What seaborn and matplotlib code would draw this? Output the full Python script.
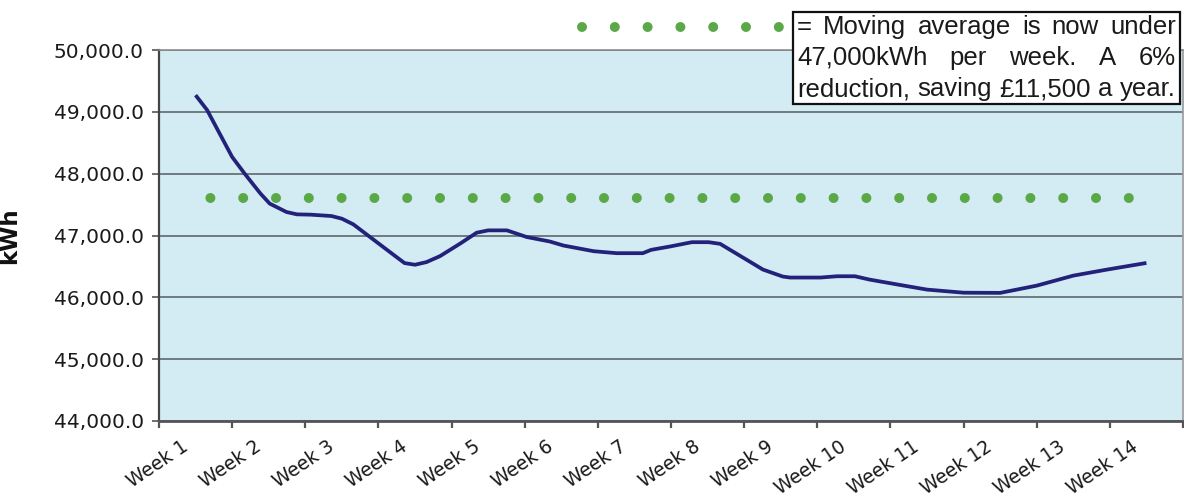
import matplotlib
matplotlib.use("Agg")
import matplotlib.pyplot as plt
import matplotlib.transforms as mtransforms
from matplotlib.lines import Line2D
from matplotlib.patches import Rectangle
from matplotlib.ticker import FuncFormatter
import seaborn as sns
import pandas as pd
import numpy as np

# ---------------- data ----------------
week_labels = [f"Week {i}" for i in range(1, 15)]
# day offset from the middle of Week 1, and moving-average kWh
ma_days = [0, 1.1, 3.5, 4.7, 6.2, 7.1, 8.7, 9.7, 11.0, 13.0,
           14.0, 15.1, 16.7, 18.6, 20.0, 21.0, 22.1, 23.4, 25.3, 26.9,
           28.0, 29.8, 31.7, 33.9, 35.2, 38.1, 40.3, 42.8, 43.6, 45.4,
           47.5, 49.1, 50.2, 51.8, 54.3, 56.2, 56.9, 59.8, 61.4, 63.1,
           64.5, 67.4, 70.0, 73.5, 77.0, 80.5, 84.0, 87.2, 91.0]
ma_kwh = [49270, 49030, 48270, 48000, 47680, 47515, 47380, 47342, 47337, 47315,
          47272, 47180, 46975, 46732, 46554, 46527, 46570, 46667, 46867, 47045,
          47083, 47083, 46975, 46903, 46838, 46746, 46714, 46714, 46768, 46822,
          46892, 46892, 46865, 46703, 46449, 46336, 46320, 46320, 46341, 46341,
          46287, 46201, 46125, 46075, 46072, 46189, 46351, 46448, 46556]
target_weeks = [1, 14]
target_kwh = [47600, 47600]
y_ticks = [44000, 45000, 46000, 47000, 48000, 49000, 50000]
note_lines = ["= Moving average is now under",
              "47,000kWh per week. A 6%",
              "reduction, saving \u00a311,500 a year."]

# ---------------- style ----------------
W, H = 1184, 504
sns.set_theme(style="white")
plt.rcParams["font.family"] = ["DejaVu Sans"]

BG = "#d3ebf2"
NAVY = "#22227a"
GREEN = "#5aa846"
GRID = "#5e686c"

fig = plt.figure(figsize=(W / 100, H / 100), dpi=100)
ax = fig.add_axes([159 / W, 83 / H, 1024 / W, 371 / H])
ax.set_facecolor(BG)

df = pd.DataFrame({"week": [1 + d / 7 for d in ma_days], "kwh": ma_kwh})
sns.lineplot(data=df, x="week", y="kwh", ax=ax, color=NAVY, linewidth=2.7,
             solid_joinstyle="round", solid_capstyle="butt", zorder=4)

# dotted target line (round dots)
dot_lw = 7.2
period = 3.28
sns.lineplot(x=target_weeks, y=target_kwh, ax=ax, color=GREEN, linewidth=dot_lw,
             linestyle=(1.84, (0.001, period - 0.001)), dash_capstyle="round",
             zorder=3)

ax.set_xlim(0.5, 14.5)
ax.set_ylim(44000, 50000)
ax.set_yticks(y_ticks)
ax.yaxis.set_major_formatter(FuncFormatter(lambda v, p: f"{v:,.1f}"))
ax.grid(axis="y", color=GRID, linewidth=1.2)
ax.grid(axis="x", visible=False)
ax.set_axisbelow(True)

ax.set_xticks(np.arange(0.5, 15, 1))
ax.set_xticklabels([])
ax.set_xticks(np.arange(1, 15), minor=True)
ax.set_xticklabels(week_labels, minor=True)
ax.tick_params(axis="x", which="major", direction="out", length=5, width=1.6,
               color="#555555", bottom=True)
ax.tick_params(axis="x", which="minor", length=0, pad=17, labelsize=13.5,
               labelcolor="#1a1a1a", labelrotation=34)
offset = mtransforms.ScaledTranslation(-7 / 72, 0, fig.dpi_scale_trans)
for lbl in ax.get_xticklabels(minor=True):
    lbl.set_ha("right")
    lbl.set_va("center")
    lbl.set_rotation_mode("anchor")
    lbl.set_transform(lbl.get_transform() + offset)

ax.tick_params(axis="y", direction="out", length=5, width=1.2, color="#555555",
               left=True, pad=6, labelsize=14.5, labelcolor="#1a1a1a")

ax.set_xlabel("")
ax.set_ylabel("kWh", fontsize=16.5, fontweight="bold", color="#111111")
ax.yaxis.set_label_coords(-0.1348, 0.5)

for side, col, lw in [("left", "#444444", 1.6), ("bottom", "#555555", 2.0),
                      ("top", "#8c8c8c", 1.2), ("right", "#9a9a9a", 1.2)]:
    ax.spines[side].set_visible(True)
    ax.spines[side].set_color(col)
    ax.spines[side].set_linewidth(lw)

# ---------------- note box ----------------
fig.add_artist(Line2D([582 / W, 780 / W], [1 - 27 / H, 1 - 27 / H],
                      transform=fig.transFigure, color=GREEN, linewidth=dot_lw,
                      linestyle=(0, (0.001, period - 0.001)),
                      dash_capstyle="round"))
fig.add_artist(Rectangle((793 / W, 1 - 104 / H), 387 / W, 92 / H,
                         transform=fig.transFigure, facecolor="white",
                         edgecolor="#111111", linewidth=1.6, zorder=5))

renderer = fig.canvas.get_renderer()
left_px, right_px = 797, 1176
baselines = [34, 65, 96]
for line, base in zip(note_lines, baselines):
    words = line.split(" ")
    texts = [fig.text(0, 1 - base / H, w, fontsize=18.5,
                      family=["Liberation Sans", "DejaVu Sans"],
                      va="baseline", ha="left", color="#1a1a1a", zorder=6)
             for w in words]
    widths = [t.get_window_extent(renderer).width for t in texts]
    gap = (right_px - left_px - sum(widths)) / (len(words) - 1)
    x = left_px
    for t, wd in zip(texts, widths):
        t.set_x(x / W)
        x += wd + gap

fig.savefig("out.png", dpi=100, facecolor="white")
